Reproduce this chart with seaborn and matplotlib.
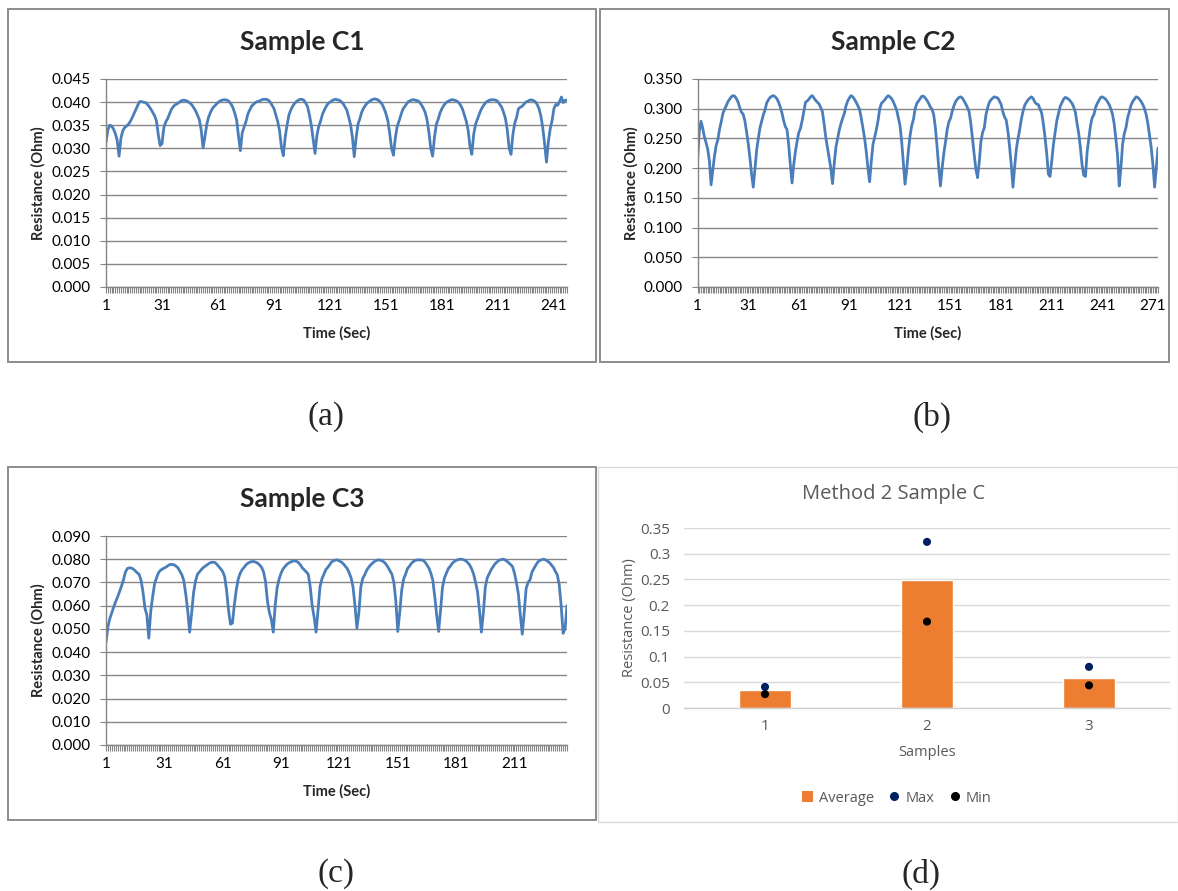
import numpy as np
import pandas as pd
import matplotlib
matplotlib.use("Agg")
import matplotlib.pyplot as plt
import seaborn as sns
from matplotlib.patches import Rectangle, Patch
from matplotlib.lines import Line2D
from matplotlib.ticker import FormatStrFormatter, NullLocator, FixedLocator

# ---------------- data ----------------
c1_resistance = [
    .0313, .0340, .0350, .0348, .0342, .0332, .0317, .0283, .0322, .0338,
    .0345, .0348, .0352, .0358, .0366, .0375, .0384, .0393, .0401, .0401,
    .0400, .0399, .0396, .0391, .0385, .0378, .0371, .0360, .0330, .0306,
    .0310, .0345, .0357, .0364, .0374, .0384, .0390, .0394, .0396, .0399,
    .0402, .0404, .0404, .0403, .0401, .0398, .0394, .0388, .0381, .0372,
    .0362, .0340, .0301, .0325, .0352, .0368, .0378, .0386, .0391, .0395,
    .0399, .0402, .0404, .0405, .0405, .0404, .0401, .0396, .0388, .0376,
    .0361, .0326, .0295, .0334, .0346, .0358, .0374, .0383, .0391, .0395,
    .0399, .0401, .0402, .0404, .0406, .0406, .0406, .0404, .0400, .0393,
    .0386, .0372, .0358, .0338, .0302, .0284, .0324, .0350, .0372, .0383,
    .0391, .0397, .0401, .0404, .0406, .0406, .0404, .0398, .0390, .0372,
    .0350, .0320, .0289, .0328, .0348, .0359, .0374, .0383, .0391, .0397,
    .0400, .0403, .0405, .0406, .0405, .0404, .0401, .0397, .0390, .0383,
    .0368, .0352, .0325, .0282, .0322, .0352, .0364, .0378, .0387, .0393,
    .0398, .0401, .0404, .0406, .0407, .0406, .0404, .0400, .0395, .0386,
    .0375, .0360, .0333, .0300, .0285, .0322, .0347, .0359, .0372, .0384,
    .0390, .0396, .0401, .0403, .0405, .0405, .0404, .0403, .0400, .0394,
    .0387, .0378, .0362, .0335, .0300, .0283, .0324, .0352, .0363, .0377,
    .0386, .0393, .0398, .0401, .0403, .0405, .0405, .0404, .0402, .0399,
    .0393, .0385, .0372, .0359, .0340, .0305, .0287, .0330, .0352, .0363,
    .0374, .0384, .0391, .0397, .0401, .0403, .0405, .0405, .0405, .0404,
    .0401, .0395, .0389, .0378, .0365, .0340, .0300, .0287, .0330, .0354,
    .0367, .0386, .0389, .0391, .0396, .0400, .0402, .0404, .0405, .0403,
    .0401, .0395, .0386, .0370, .0345, .0310, .0270, .0314, .0342, .0360,
    .0386, .0395, .0393, .0401, .0411, .0399, .0404, .0404,
]

c2_resistance = [
    .214, .262, .279, .268, .253, .243, .232, .212, .172, .196,
    .220, .238, .248, .265, .278, .292, .299, .305, .312, .316,
    .320, .322, .321, .317, .311, .302, .294, .291, .280, .262,
    .242, .218, .190, .168, .198, .230, .250, .268, .279, .290,
    .298, .310, .315, .319, .321, .322, .320, .317, .311, .303,
    .293, .280, .270, .265, .240, .205, .175, .206, .228, .245,
    .260, .267, .280, .296, .311, .313, .316, .320, .322, .318,
    .314, .311, .308, .302, .295, .275, .252, .235, .218, .200,
    .174, .207, .235, .250, .264, .275, .284, .292, .305, .313,
    .318, .322, .320, .316, .311, .305, .299, .285, .268, .251,
    .228, .200, .177, .212, .240, .252, .265, .280, .300, .309,
    .312, .315, .319, .322, .320, .317, .312, .305, .298, .285,
    .272, .245, .210, .173, .198, .230, .255, .272, .282, .300,
    .309, .313, .317, .321, .321, .318, .314, .309, .303, .299,
    .290, .268, .236, .200, .170, .200, .225, .244, .265, .278,
    .284, .296, .305, .312, .316, .319, .320, .318, .313, .308,
    .302, .295, .275, .250, .223, .198, .184, .210, .245, .260,
    .268, .290, .302, .311, .315, .318, .320, .319, .318, .313,
    .307, .295, .286, .281, .262, .236, .205, .168, .202, .232,
    .250, .265, .283, .296, .306, .311, .315, .318, .320, .317,
    .311, .308, .307, .300, .293, .275, .252, .225, .190, .186,
    .212, .240, .260, .280, .292, .304, .310, .316, .319, .318,
    .316, .313, .309, .303, .294, .275, .258, .234, .205, .188,
    .186, .228, .250, .272, .285, .290, .302, .309, .314, .319,
    .320, .318, .316, .312, .307, .300, .291, .275, .250, .222,
    .170, .200, .240, .258, .268, .285, .295, .306, .312, .316,
    .320, .319, .316, .312, .307, .300, .290, .275, .255, .234,
    .205, .168, .200, .234,
]

c3_resistance = [
    .0443, .0510, .0545, .0570, .0595, .0618, .0638, .0662, .0685, .0712,
    .0745, .0760, .0763, .0762, .0758, .0750, .0742, .0735, .0710, .0660,
    .0590, .0560, .0460, .0575, .0640, .0695, .0720, .0742, .0752, .0758,
    .0762, .0767, .0773, .0778, .0777, .0776, .0770, .0763, .0748, .0733,
    .0708, .0650, .0580, .0486, .0565, .0655, .0705, .0735, .0745, .0755,
    .0764, .0770, .0776, .0782, .0786, .0787, .0786, .0778, .0768, .0758,
    .0747, .0725, .0665, .0580, .0520, .0525, .0605, .0670, .0715, .0740,
    .0755, .0765, .0776, .0783, .0787, .0790, .0790, .0787, .0783, .0775,
    .0765, .0745, .0705, .0620, .0570, .0540, .0486, .0603, .0678, .0715,
    .0740, .0758, .0768, .0778, .0784, .0788, .0792, .0793, .0791, .0785,
    .0775, .0762, .0754, .0745, .0735, .0680, .0600, .0550, .0486, .0580,
    .0680, .0715, .0735, .0755, .0765, .0776, .0789, .0793, .0797, .0797,
    .0792, .0788, .0780, .0770, .0760, .0742, .0720, .0680, .0600, .0503,
    .0570, .0680, .0718, .0733, .0752, .0765, .0775, .0783, .0790, .0795,
    .0797, .0796, .0793, .0787, .0778, .0765, .0750, .0735, .0700, .0620,
    .0489, .0570, .0665, .0715, .0735, .0760, .0770, .0782, .0790, .0795,
    .0797, .0797, .0797, .0795, .0788, .0775, .0762, .0740, .0710, .0640,
    .0560, .0489, .0580, .0680, .0720, .0740, .0760, .0770, .0782, .0790,
    .0795, .0798, .0800, .0800, .0797, .0793, .0785, .0775, .0758, .0735,
    .0700, .0660, .0580, .0486, .0570, .0680, .0720, .0738, .0755, .0768,
    .0780, .0788, .0795, .0798, .0800, .0798, .0792, .0785, .0777, .0768,
    .0740, .0700, .0650, .0560, .0477, .0570, .0675, .0700, .0712, .0745,
    .0760, .0775, .0788, .0795, .0798, .0800, .0797, .0792, .0785, .0775,
    .0765, .0748, .0733, .0690, .0600, .0481, .0500, .0600,
]

c1_yticks = [0.000, 0.005, 0.010, 0.015, 0.020, 0.025, 0.030, 0.035, 0.040, 0.045]
c2_yticks = [0.000, 0.050, 0.100, 0.150, 0.200, 0.250, 0.300, 0.350]
c3_yticks = [0.000, 0.010, 0.020, 0.030, 0.040, 0.050, 0.060, 0.070, 0.080, 0.090]
c1_xtick_labels = [1, 31, 61, 91, 121, 151, 181, 211, 241]
c2_xtick_labels = [1, 31, 61, 91, 121, 151, 181, 211, 241, 271]
c3_xtick_labels = [1, 31, 61, 91, 121, 151, 181, 211]

samples = ["1", "2", "3"]
avg_vals = [0.035, 0.249, 0.059]
max_vals = [0.041, 0.323, 0.080]
min_vals = [0.027, 0.168, 0.044]
d_yticks = [0, 0.05, 0.1, 0.15, 0.2, 0.25, 0.3, 0.35]
d_ytick_labels = ["0", "0.05", "0.1", "0.15", "0.2", "0.25", "0.3", "0.35"]

# ---------------- styling ----------------
W, H = 1178, 891
LINE = "#4A7EBB"
GRID = "#868686"
ORANGE = "#ED7D31"
NAVY = "#002060"
DGRAY = "#595959"
LGRID = "#d9d9d9"

sns.set_theme(style="white")
plt.rcParams['font.family'] = ['Lato', 'DejaVu Sans']

fig = plt.figure(figsize=(W / 100, H / 100), dpi=100)
fig.patch.set_facecolor("white")


def px_axes(l, t, r, b):
    return fig.add_axes([l / W, 1 - b / H, (r - l) / W, (b - t) / H])


def ftext(x, y, s, **kw):
    return fig.text(x / W, 1 - y / H, s, **kw)


def frame(l, t, r, b, color, lw):
    fig.add_artist(Rectangle((l / W, 1 - b / H), (r - l) / W, (b - t) / H,
                             transform=fig.transFigure, fill=False,
                             edgecolor=color, linewidth=lw))


def ts_panel(vals, box, yticks, xticks, title, title_xy, ylab_x, xlab_y):
    l, t, r, b = box
    ax = px_axes(l, t, r, b)
    n = len(vals)
    df = pd.DataFrame({"Time (Sec)": np.arange(1, n + 1), "Resistance (Ohm)": vals})
    sns.lineplot(data=df, x="Time (Sec)", y="Resistance (Ohm)", ax=ax,
                 color=LINE, linewidth=2.0)
    for ln in ax.lines:
        ln.set_solid_joinstyle('round')
    ax.set_xlim(1, n)
    ax.set_ylim(yticks[0], yticks[-1])
    ax.set_yticks(yticks)
    ax.yaxis.set_major_formatter(FormatStrFormatter('%.3f'))
    ax.set_xticks(xticks)
    ax.set_xticks(np.arange(1, n + 1), minor=True)
    ax.grid(False)
    ax.grid(axis='y', which='major', color=GRID, linewidth=1.0)
    ax.set_axisbelow(True)
    for s in ['top', 'right']:
        ax.spines[s].set_visible(False)
    for s in ['left', 'bottom']:
        ax.spines[s].set_color(GRID)
        ax.spines[s].set_linewidth(1.0)
    ax.tick_params(axis='both', which='both', direction='out', color=GRID,
                   width=0.8, length=4, labelsize=11, labelcolor='black',
                   bottom=True, left=True)
    ax.tick_params(axis='y', which='major', pad=7)
    ax.tick_params(axis='x', which='major', pad=5)
    ax.set_xlabel("Time (Sec)", fontsize=10.5, fontweight='bold')
    ax.set_ylabel("Resistance (Ohm)", fontsize=10.5, fontweight='bold')
    ax.xaxis.set_label_coords(0.5, (b - xlab_y) / (b - t))
    ax.xaxis.label.set_va('center')
    ax.yaxis.set_label_coords((ylab_x - l) / (r - l), 0.5)
    ax.yaxis.label.set_va('center')
    ftext(title_xy[0], title_xy[1], title, fontsize=19, fontweight='bold',
          ha='center', va='center')
    return ax


# frames
frame(8, 9, 596, 362, "#8c8c8c", 1.4)
frame(600, 9, 1169, 362, "#8c8c8c", 1.4)
frame(8, 467, 596, 820, "#8c8c8c", 1.4)
frame(598, 467, 1177.5, 822, LGRID, 1.0)

ts_panel(c1_resistance, (106, 79, 567, 287), c1_yticks, c1_xtick_labels,
         "Sample C1", (302, 42), 38, 333)
ts_panel(c2_resistance, (697.6, 79, 1158, 287), c2_yticks, c2_xtick_labels,
         "Sample C2", (893, 42), 631, 333)
ts_panel(c3_resistance, (106, 536, 567, 745), c3_yticks, c3_xtick_labels,
         "Sample C3", (302, 499), 38, 791)

# panel d
axd = px_axes(684, 528, 1170, 708)
dfd = pd.DataFrame({"Samples": samples, "Average": avg_vals,
                    "Max": max_vals, "Min": min_vals})
sns.barplot(data=dfd, x="Samples", y="Average", color=ORANGE, saturation=1,
            width=0.315, errorbar=None, ax=axd, zorder=2)
sns.scatterplot(data=dfd, x="Samples", y="Max", color=NAVY, s=34,
                edgecolor="none", ax=axd, zorder=3)
sns.scatterplot(data=dfd, x="Samples", y="Min", color="black", s=34,
                edgecolor="none", ax=axd, zorder=3)
axd.set_xlim(-0.5, 2.5)
axd.set_ylim(0, 0.35)
axd.yaxis.set_major_locator(FixedLocator(d_yticks))
axd.set_yticklabels(d_ytick_labels)
axd.xaxis.set_minor_locator(NullLocator())
axd.yaxis.set_minor_locator(NullLocator())
axd.grid(False)
axd.grid(axis='y', color=LGRID, linewidth=1.0)
axd.set_axisbelow(True)
for s in ['top', 'right', 'left']:
    axd.spines[s].set_visible(False)
axd.spines['bottom'].set_color("#cfcfcf")
axd.spines['bottom'].set_linewidth(1.0)
axd.tick_params(axis='both', which='both', length=0, width=0,
                bottom=False, top=False, left=False, right=False,
                labelbottom=True, labelleft=True,
                labelsize=11, labelcolor=DGRAY, labelfontfamily='Open Sans')
axd.tick_params(axis='y', pad=10)
axd.tick_params(axis='x', pad=8)
for tk in axd.xaxis.get_major_ticks() + axd.yaxis.get_major_ticks():
    tk.tick1line.set_visible(False)
    tk.tick2line.set_visible(False)
axd.set_xlabel("Samples", fontsize=10.5, color=DGRAY, family='Open Sans')
axd.set_ylabel("Resistance (Ohm)", fontsize=10.5, color=DGRAY, family='Open Sans')
axd.xaxis.set_label_coords(0.5, (708 - 752) / 180)
axd.xaxis.label.set_va('center')
axd.yaxis.set_label_coords((630 - 684) / 486, 0.5)
axd.yaxis.label.set_va('center')
ftext(894, 494, "Method 2 Sample C", fontsize=14.5, color=DGRAY,
      family='Open Sans', ha='center', va='center')

handles = [Patch(facecolor=ORANGE, edgecolor='none'),
           Line2D([], [], marker='o', ls='', color=NAVY, markersize=5.5),
           Line2D([], [], marker='o', ls='', color='black', markersize=5.5)]
fig.legend(handles=handles, labels=["Average", "Max", "Min"], loc='center',
           bbox_to_anchor=(897 / W, 1 - 798 / H), ncol=3, frameon=False,
           handlelength=0.75, handleheight=0.75, handletextpad=0.4,
           columnspacing=1.0, prop={'family': 'Open Sans', 'size': 10.5},
           labelcolor=DGRAY)

# captions
for s, x, y in [("(a)", 326, 417), ("(b)", 932, 417), ("(c)", 336, 874), ("(d)", 921, 874)]:
    ftext(x, y, s, fontsize=24, family='Liberation Serif', ha='center', va='center')

fig.savefig("out.png", dpi=100)
